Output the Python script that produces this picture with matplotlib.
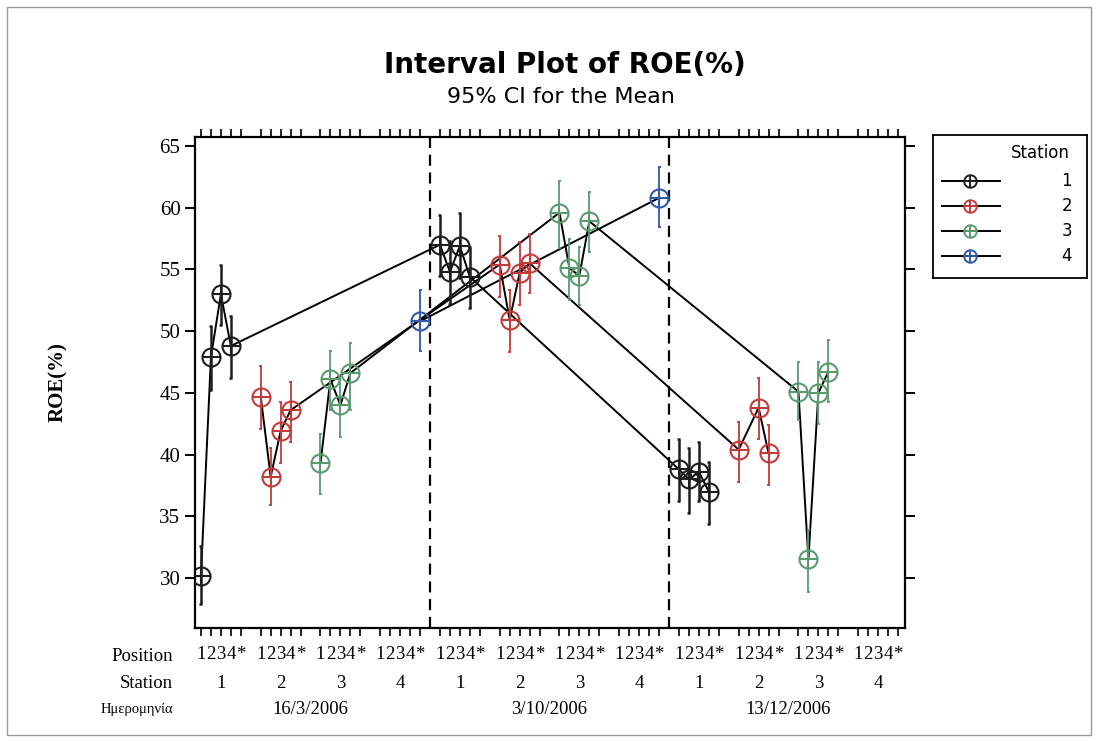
import numpy as np
import pandas as pd
import matplotlib.pyplot as plt
from matplotlib.lines import Line2D
from matplotlib.patches import Rectangle

# data
dates = ["16/3/2006", "3/10/2006", "13/12/2006"]
stations = [1, 2, 3, 4]
positions = ["1", "2", "3", "4", "*"]

row_date = [0, 0, 0, 0, 1, 1, 1, 1, 2, 2, 2, 2,
            0, 0, 0, 0, 1, 1, 1, 1, 2, 2, 2,
            0, 0, 0, 0, 1, 1, 1, 1, 2, 2, 2, 2,
            0, 1]
row_station = [1] * 12 + [2] * 11 + [3] * 12 + [4] * 2
row_position = ["1", "2", "3", "4", "1", "2", "3", "4", "1", "2", "3", "4",
                "1", "2", "3", "4", "1", "2", "3", "4", "1", "3", "4",
                "1", "2", "3", "4", "1", "2", "3", "4", "1", "2", "3", "4",
                "*", "*"]
row_mean = [30.2, 47.9, 53.0, 48.8, 57.0, 54.8, 56.9, 54.4, 38.8, 38.0, 38.6, 37.0,
            44.7, 38.2, 41.9, 43.6, 55.4, 50.9, 54.7, 55.5, 40.4, 43.8, 40.1,
            39.3, 46.1, 44.0, 46.6, 59.6, 55.1, 54.5, 58.9, 45.1, 31.5, 45.0, 46.7,
            50.8, 60.8]
row_lower = [27.9, 45.2, 50.5, 46.2, 54.5, 52.2, 54.3, 51.9, 36.2, 35.3, 36.2, 34.4,
             42.1, 35.9, 39.3, 41.0, 52.8, 48.3, 52.1, 53.1, 37.8, 41.3, 37.5,
             36.8, 43.6, 41.4, 43.6, 56.7, 52.5, 52.1, 56.4, 42.8, 28.9, 42.5, 44.3,
             48.4, 58.4]
row_upper = [32.6, 50.4, 55.4, 51.2, 59.4, 57.3, 59.6, 56.8, 41.3, 40.5, 41.0, 39.4,
             47.2, 40.5, 44.3, 45.9, 57.7, 53.3, 57.2, 57.9, 42.6, 46.2, 42.4,
             41.7, 48.4, 46.4, 49.0, 62.2, 57.5, 56.8, 61.3, 47.5, 33.9, 47.5, 49.3,
             53.3, 63.3]

colors = {1: "#1e1e1e", 2: "#c23b3b", 3: "#5b9a70", 4: "#2f58a8"}

df = pd.DataFrame({
    "date": row_date,
    "station": row_station,
    "position": row_position,
    "mean": row_mean,
    "lower": row_lower,
    "upper": row_upper,
})
df["x"] = df["date"] * 24 + (df["station"] - 1) * 6 + df["position"].map(positions.index)

serif = "Liberation Serif"
lab_fs = 13.5

fig = plt.figure(figsize=(10.98, 7.41), dpi=100)
ax = fig.add_axes([195 / 1098, 1 - 628 / 741, 710 / 1098, 491 / 741])

# vertical separators between dates
for xs in [23, 47]:
    ax.axvline(xs, color="black", linestyle=(0, (5, 3)), linewidth=1.6, zorder=1)

for st in stations:
    d = df[df["station"] == st].sort_values("x")
    c = colors[st]
    lw = 1.8 if st == 1 else 1.3
    ax.plot(d["x"], d["mean"], color="black", linewidth=1.4, zorder=2)
    ax.vlines(d["x"], d["lower"], d["upper"], color=c, linewidth=lw, zorder=3)
    ax.hlines(d["lower"], d["x"] - 0.15, d["x"] + 0.15, color=c, linewidth=lw, zorder=3)
    ax.hlines(d["upper"], d["x"] - 0.15, d["x"] + 0.15, color=c, linewidth=lw, zorder=3)
    ax.plot(d["x"], d["mean"], "o", markersize=13, markerfacecolor="none",
            markeredgecolor=c, markeredgewidth=1.5, zorder=4)
    ax.plot(d["x"], d["mean"], "+", markersize=13, markeredgecolor=c,
            markeredgewidth=1.5, zorder=4)

ax.set_xlim(-0.6, 70.7)
ax.set_ylim(25.95, 65.73)

xt = [g * 6 + p for g in range(12) for p in range(5)]
ax.set_xticks(xt)
ax.set_xticklabels(positions * 12, fontsize=lab_fs, family=serif)
ax.set_yticks([30, 35, 40, 45, 50, 55, 60, 65])
ax.set_yticklabels(["30", "35", "40", "45", "50", "55", "60", "65"],
                   fontsize=15, family=serif)
ax.tick_params(axis="x", direction="out", length=6, width=1.2, top=True, pad=7)
ax.tick_params(axis="y", direction="out", length=7, width=1.4, right=True)
for s in ax.spines.values():
    s.set_linewidth(1.6)

ax.set_ylabel("ROE(%)", fontsize=15, fontweight="bold", family=serif,
              labelpad=66)

# extra category rows below the axis
tr = ax.get_xaxis_transform()
ax.text(-2.8, -0.059, "Position", transform=tr, ha="right", va="center",
        fontsize=lab_fs, family=serif)
ax.text(-2.8, -0.114, "Station", transform=tr, ha="right", va="center",
        fontsize=lab_fs, family=serif)
ax.text(-2.8, -0.167, "Ημερομηνία", transform=tr, ha="right", va="center",
        fontsize=10.5, family=serif)
for g in range(12):
    ax.text(g * 6 + 2, -0.114, str(stations[g % 4]), transform=tr, ha="center",
            va="center", fontsize=lab_fs, family=serif)
for i, dt in enumerate(dates):
    ax.text(i * 24 + 11, -0.167, dt, transform=tr, ha="center", va="center",
            fontsize=lab_fs, family=serif)

fig.text(565 / 1098, 1 - 65 / 741, "Interval Plot of ROE(%)", ha="center",
         va="center", fontsize=20, fontweight="bold")
fig.text(561 / 1098, 1 - 97 / 741, "95% CI for the Mean", ha="center",
         va="center", fontsize=16)

# legend
lax = fig.add_axes([933 / 1098, 1 - 278 / 741, 154 / 1098, 143 / 741])
lax.set_xlim(0, 154)
lax.set_ylim(143, 0)
lax.set_xticks([])
lax.set_yticks([])
for s in lax.spines.values():
    s.set_linewidth(1.3)
lax.text(137, 18, "Station", ha="right", va="center", fontsize=12)
for i, st in enumerate(stations):
    yy = 46 + i * 25
    lax.add_line(Line2D([9, 67], [yy, yy], color="black", linewidth=1.4))
    lax.plot(37, yy, "o", markersize=9, markerfacecolor="none",
             markeredgecolor=colors[st], markeredgewidth=1.4)
    lax.plot(37, yy, "+", markersize=9, markeredgecolor=colors[st],
             markeredgewidth=1.4)
    lax.text(139, yy, str(st), ha="right", va="center", fontsize=12)

fig.add_artist(Rectangle((7 / 1098, 6 / 741), 1084 / 1098, 728 / 741,
                         transform=fig.transFigure, fill=False,
                         edgecolor="#9a9a9a", linewidth=1))

plt.savefig("out.png", dpi=100)
